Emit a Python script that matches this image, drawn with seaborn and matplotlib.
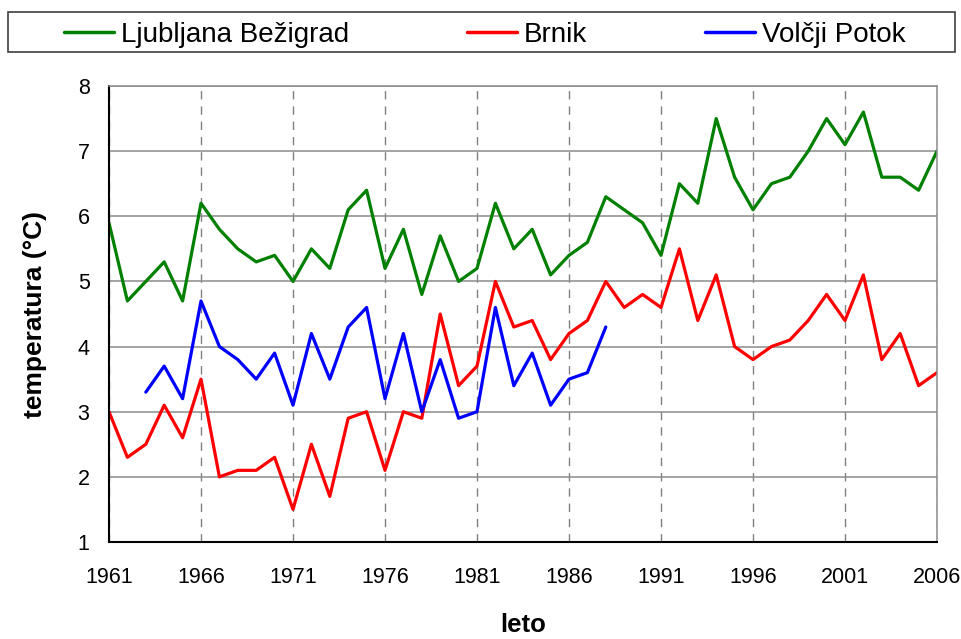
import numpy as np
import pandas as pd
import seaborn as sns
import matplotlib.pyplot as plt
from matplotlib.patches import Rectangle

# Letne povprečne temperature
years = list(range(1961, 2007))
ljubljana = [5.9, 4.7, 5.0, 5.3, 4.7, 6.2, 5.8, 5.5, 5.3, 5.4,
             5.0, 5.5, 5.2, 6.1, 6.4, 5.2, 5.8, 4.8, 5.7, 5.0,
             5.2, 6.2, 5.5, 5.8, 5.1, 5.4, 5.6, 6.3, 6.1, 5.9,
             5.4, 6.5, 6.2, 7.5, 6.6, 6.1, 6.5, 6.6, 7.0, 7.5,
             7.1, 7.6, 6.6, 6.6, 6.4, 7.0]
brnik = [3.0, 2.3, 2.5, 3.1, 2.6, 3.5, 2.0, 2.1, 2.1, 2.3,
         1.5, 2.5, 1.7, 2.9, 3.0, 2.1, 3.0, 2.9, 4.5, 3.4,
         3.7, 5.0, 4.3, 4.4, 3.8, 4.2, 4.4, 5.0, 4.6, 4.8,
         4.6, 5.5, 4.4, 5.1, 4.0, 3.8, 4.0, 4.1, 4.4, 4.8,
         4.4, 5.1, 3.8, 4.2, 3.4, 3.6]
volcji_years = list(range(1963, 1989))
volcji = [3.3, 3.7, 3.2, 4.7, 4.0, 3.8, 3.5, 3.9, 3.1, 4.2,
          3.5, 4.3, 4.6, 3.2, 4.2, 3.0, 3.8, 2.9, 3.0, 4.6,
          3.4, 3.9, 3.1, 3.5, 3.6, 4.3]

stations = ['Ljubljana Bežigrad', 'Brnik', 'Volčji Potok']
colors = ['#008000', '#ff0000', '#0000ff']

# long table for seaborn
df = pd.concat([
    pd.DataFrame({'leto': years, 'temp': ljubljana, 'postaja': stations[0]}),
    pd.DataFrame({'leto': years, 'temp': brnik, 'postaja': stations[1]}),
    pd.DataFrame({'leto': volcji_years, 'temp': volcji, 'postaja': stations[2]}),
])

sns.set_style('white')
plt.rcParams['font.family'] = ['Liberation Sans', 'DejaVu Sans']
plt.rcParams['text.color'] = 'black'
plt.rcParams['axes.labelcolor'] = 'black'

fig = plt.figure(figsize=(9.62, 6.39), dpi=100)
ax = fig.add_axes([109 / 962, 97 / 639, 828 / 962, 456 / 639])

sns.lineplot(data=df, x='leto', y='temp', hue='postaja', hue_order=stations,
             palette=colors, linewidth=2.3, ax=ax, sort=False)

ax.set_xlim(1961, 2006)
ax.set_ylim(1, 8)
ax.set_xticks(range(1961, 2007, 5))
ax.set_yticks(range(1, 9))
ax.tick_params(axis='both', labelsize=15.5, colors='black', direction='out',
               length=5, width=1, pad=9)
ax.tick_params(axis='x', pad=13)

# grid: solid horizontal, dashed vertical
ax.grid(axis='y', color='#8c8c8c', linewidth=1.1, linestyle='-')
ax.grid(axis='x', color='#808080', linewidth=1.0, linestyle=(0, (6, 5)))
ax.set_axisbelow(True)

for side in ['left', 'bottom']:
    ax.spines[side].set_color('black')
    ax.spines[side].set_linewidth(1.5)
for side in ['top', 'right']:
    ax.spines[side].set_color('#8c8c8c')
    ax.spines[side].set_linewidth(1.1)

ax.set_xlabel('leto', fontsize=18.5, fontweight='bold', labelpad=18)
ax.set_ylabel('temperatura (°C)', fontsize=19, fontweight='bold', labelpad=22)

# legend across the top, in its own frame
handles, labels = ax.get_legend_handles_labels()
ax.get_legend().remove()
fig.patches.append(Rectangle((8 / 962, 1 - 52 / 639), 947 / 962, 40 / 639,
                             transform=fig.transFigure, fill=False,
                             edgecolor='#404040', linewidth=1.2))
leg = fig.legend(handles, labels, ncol=3, mode='expand', frameon=False,
                 loc='lower left', borderpad=0, borderaxespad=0,
                 bbox_to_anchor=(64 / 962, 1 - 48 / 639, 842 / 962, 32 / 639),
                 fontsize=20, handlelength=1.8, handletextpad=0.25)
for line in leg.get_lines():
    line.set_linewidth(2.5)

fig.savefig('out.png', dpi=100)
